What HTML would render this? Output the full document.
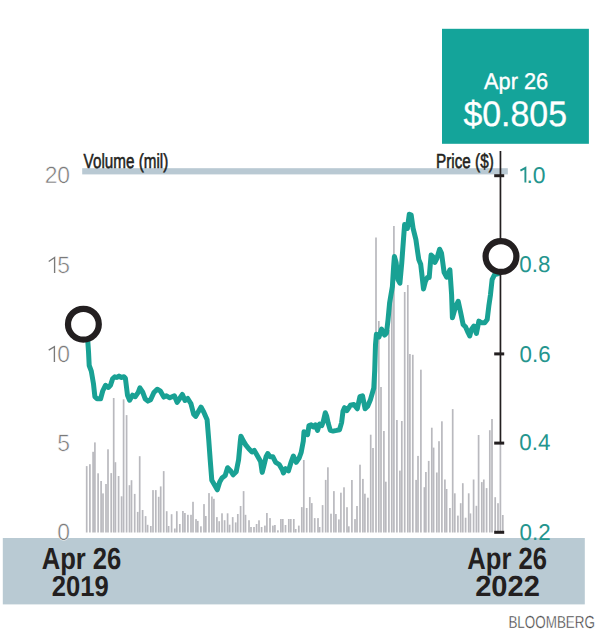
<!DOCTYPE html>
<html><head><meta charset="utf-8"><title>chart</title>
<style>
html,body{margin:0;padding:0;background:#fff;}
body{width:603px;height:635px;overflow:hidden;position:relative;}
svg{position:absolute;left:0;top:0;display:block;font-family:"Liberation Sans", sans-serif;text-rendering:geometricPrecision;}
</style></head>
<body>
<svg width="603" height="635" viewBox="0 0 603 635">
<rect x="442" y="28.8" width="146.9" height="115" fill="#14a49a"/>
<text transform="translate(516.1 88.9) scale(0.955 1)" font-size="22.8" fill="#fff" text-anchor="middle" stroke="#fff" stroke-width="0.35">Apr 26</text>
<text transform="translate(515.2 126) scale(0.954 1)" font-size="35.5" fill="#fff" text-anchor="middle" stroke="#fff" stroke-width="0.3">$0.805</text>
<rect x="82.2" y="168.2" width="425.6" height="6.2" fill="#b9c9d3"/>
<text transform="translate(83.6 168.2) scale(0.747 1)" font-size="20.4" fill="#231f20" stroke="#231f20" stroke-width="0.55">Volume (mil)</text>
<text transform="translate(436.1 167.5) scale(0.748 1)" font-size="20.4" fill="#231f20" stroke="#231f20" stroke-width="0.55">Price ($)</text>
<g fill="#b9b9be">
<rect x="85.85" y="466.1" width="1.7" height="66.4"/>
<rect x="89.05" y="464.2" width="1.7" height="68.3"/>
<rect x="92.25" y="451.8" width="1.7" height="80.7"/>
<rect x="94.05" y="442.4" width="1.7" height="90.1"/>
<rect x="97.25" y="473.3" width="1.7" height="59.2"/>
<rect x="100.25" y="481" width="1.7" height="51.5"/>
<rect x="102.15" y="493.4" width="1.7" height="39.1"/>
<rect x="105.15" y="484" width="1.7" height="48.5"/>
<rect x="107.15" y="449.3" width="1.7" height="83.2"/>
<rect x="110.35" y="473.1" width="1.7" height="59.4"/>
<rect x="112.85" y="398" width="1.7" height="134.5"/>
<rect x="114.55" y="462.2" width="1.7" height="70.3"/>
<rect x="117.75" y="476" width="1.7" height="56.5"/>
<rect x="120.75" y="496.3" width="1.7" height="36.2"/>
<rect x="122.75" y="399.3" width="1.7" height="133.2"/>
<rect x="125.75" y="415.1" width="1.7" height="117.4"/>
<rect x="128.65" y="485.2" width="1.7" height="47.3"/>
<rect x="130.65" y="480.2" width="1.7" height="52.3"/>
<rect x="133.85" y="493.9" width="1.7" height="38.6"/>
<rect x="136.85" y="511.9" width="1.7" height="20.6"/>
<rect x="138.85" y="456.2" width="1.7" height="76.3"/>
<rect x="141.75" y="510" width="1.7" height="22.5"/>
<rect x="144.75" y="516.1" width="1.7" height="16.4"/>
<rect x="146.75" y="524.8" width="1.7" height="7.7"/>
<rect x="149.95" y="526" width="1.7" height="6.5"/>
<rect x="152.15" y="490.1" width="1.7" height="42.4"/>
<rect x="154.95" y="490.1" width="1.7" height="42.4"/>
<rect x="157.85" y="496.8" width="1.7" height="35.7"/>
<rect x="159.85" y="486.4" width="1.7" height="46.1"/>
<rect x="162.85" y="471.1" width="1.7" height="61.4"/>
<rect x="165.85" y="511.2" width="1.7" height="21.3"/>
<rect x="167.75" y="526" width="1.7" height="6.5"/>
<rect x="170.75" y="514.2" width="1.7" height="18.3"/>
<rect x="173.95" y="528.5" width="1.7" height="4"/>
<rect x="175.95" y="511.2" width="1.7" height="21.3"/>
<rect x="178.95" y="524" width="1.7" height="8.5"/>
<rect x="182.05" y="511" width="1.7" height="21.5"/>
<rect x="184.05" y="513" width="1.7" height="19.5"/>
<rect x="187.05" y="514.8" width="1.7" height="17.7"/>
<rect x="190.15" y="514.8" width="1.7" height="17.7"/>
<rect x="192.15" y="501.8" width="1.7" height="30.7"/>
<rect x="195.15" y="519.1" width="1.7" height="13.4"/>
<rect x="196.95" y="520.9" width="1.7" height="11.6"/>
<rect x="200.05" y="526.3" width="1.7" height="6.2"/>
<rect x="203.15" y="504.1" width="1.7" height="28.4"/>
<rect x="204.95" y="516" width="1.7" height="16.5"/>
<rect x="208.15" y="493.1" width="1.7" height="39.4"/>
<rect x="211.05" y="496.5" width="1.7" height="36"/>
<rect x="213.05" y="498.8" width="1.7" height="33.7"/>
<rect x="216.05" y="517.1" width="1.7" height="15.4"/>
<rect x="218.35" y="521.2" width="1.7" height="11.3"/>
<rect x="221.15" y="513.3" width="1.7" height="19.2"/>
<rect x="223.75" y="520.2" width="1.7" height="12.3"/>
<rect x="226.75" y="513.3" width="1.7" height="19.2"/>
<rect x="228.75" y="524.7" width="1.7" height="7.8"/>
<rect x="231.85" y="517.1" width="1.7" height="15.4"/>
<rect x="234.85" y="522.4" width="1.7" height="10.1"/>
<rect x="236.95" y="514" width="1.7" height="18.5"/>
<rect x="239.75" y="506" width="1.7" height="26.5"/>
<rect x="242.75" y="491.1" width="1.7" height="41.4"/>
<rect x="244.65" y="514.8" width="1.7" height="17.7"/>
<rect x="248.15" y="520.2" width="1.7" height="12.3"/>
<rect x="250.15" y="527" width="1.7" height="5.5"/>
<rect x="253.15" y="527" width="1.7" height="5.5"/>
<rect x="255.75" y="524" width="1.7" height="8.5"/>
<rect x="258.15" y="520.3" width="1.7" height="12.2"/>
<rect x="260.75" y="527" width="1.7" height="5.5"/>
<rect x="264.05" y="525.6" width="1.7" height="6.9"/>
<rect x="266.05" y="513" width="1.7" height="19.5"/>
<rect x="269.15" y="518.1" width="1.7" height="14.4"/>
<rect x="272.05" y="525.6" width="1.7" height="6.9"/>
<rect x="274.05" y="525" width="1.7" height="7.5"/>
<rect x="277.05" y="530.3" width="1.7" height="2.2"/>
<rect x="280.05" y="519" width="1.7" height="13.5"/>
<rect x="281.95" y="519" width="1.7" height="13.5"/>
<rect x="284.65" y="525" width="1.7" height="7.5"/>
<rect x="287.95" y="519" width="1.7" height="13.5"/>
<rect x="289.95" y="519" width="1.7" height="13.5"/>
<rect x="292.95" y="519" width="1.7" height="13.5"/>
<rect x="294.85" y="529" width="1.7" height="3.5"/>
<rect x="297.95" y="525.6" width="1.7" height="6.9"/>
<rect x="300.95" y="507.1" width="1.7" height="25.4"/>
<rect x="302.95" y="460" width="1.7" height="72.5"/>
<rect x="305.85" y="508" width="1.7" height="24.5"/>
<rect x="308.95" y="497.1" width="1.7" height="35.4"/>
<rect x="310.95" y="503.1" width="1.7" height="29.4"/>
<rect x="313.85" y="518.1" width="1.7" height="14.4"/>
<rect x="317.15" y="518.1" width="1.7" height="14.4"/>
<rect x="318.75" y="527" width="1.7" height="5.5"/>
<rect x="321.75" y="505.1" width="1.7" height="27.4"/>
<rect x="324.85" y="479.9" width="1.7" height="52.6"/>
<rect x="327.05" y="467.3" width="1.7" height="65.2"/>
<rect x="330.15" y="513.7" width="1.7" height="18.8"/>
<rect x="333.05" y="491.1" width="1.7" height="41.4"/>
<rect x="335.05" y="514" width="1.7" height="18.5"/>
<rect x="338.05" y="519.4" width="1.7" height="13.1"/>
<rect x="340.05" y="492.7" width="1.7" height="39.8"/>
<rect x="343.15" y="487.3" width="1.7" height="45.2"/>
<rect x="346.15" y="507.2" width="1.7" height="25.3"/>
<rect x="347.95" y="526.3" width="1.7" height="6.2"/>
<rect x="351.05" y="480" width="1.7" height="52.5"/>
<rect x="354.15" y="519.1" width="1.7" height="13.4"/>
<rect x="356.15" y="506" width="1.7" height="26.5"/>
<rect x="359.15" y="464.7" width="1.7" height="67.8"/>
<rect x="362.05" y="478.9" width="1.7" height="53.6"/>
<rect x="364.05" y="493.7" width="1.7" height="38.8"/>
<rect x="367.05" y="497.7" width="1.7" height="34.8"/>
<rect x="369.85" y="434.7" width="1.7" height="97.8"/>
<rect x="372.15" y="448" width="1.7" height="84.5"/>
<rect x="375.15" y="237.5" width="1.7" height="295"/>
<rect x="377.95" y="321" width="1.7" height="211.5"/>
<rect x="380.15" y="387" width="1.7" height="145.5"/>
<rect x="383.05" y="431" width="1.7" height="101.5"/>
<rect x="384.95" y="481.7" width="1.7" height="50.8"/>
<rect x="388.05" y="330" width="1.7" height="202.5"/>
<rect x="390.95" y="295" width="1.7" height="237.5"/>
<rect x="393.05" y="226" width="1.7" height="306.5"/>
<rect x="396.05" y="420" width="1.7" height="112.5"/>
<rect x="399.05" y="470.6" width="1.7" height="61.9"/>
<rect x="400.95" y="421" width="1.7" height="111.5"/>
<rect x="403.85" y="292" width="1.7" height="240.5"/>
<rect x="406.95" y="285" width="1.7" height="247.5"/>
<rect x="409.05" y="354" width="1.7" height="178.5"/>
<rect x="411.95" y="354.8" width="1.7" height="177.7"/>
<rect x="415.25" y="479.9" width="1.7" height="52.6"/>
<rect x="417.15" y="455.9" width="1.7" height="76.6"/>
<rect x="420.05" y="369.7" width="1.7" height="162.8"/>
<rect x="423.55" y="487.2" width="1.7" height="45.3"/>
<rect x="425.05" y="472" width="1.7" height="60.5"/>
<rect x="427.85" y="460.9" width="1.7" height="71.6"/>
<rect x="430.95" y="427.7" width="1.7" height="104.8"/>
<rect x="432.75" y="447.6" width="1.7" height="84.9"/>
<rect x="435.95" y="472.5" width="1.7" height="60"/>
<rect x="438.15" y="441.2" width="1.7" height="91.3"/>
<rect x="441.05" y="421.3" width="1.7" height="111.2"/>
<rect x="444.05" y="479.5" width="1.7" height="53"/>
<rect x="445.75" y="489" width="1.7" height="43.5"/>
<rect x="449.05" y="508" width="1.7" height="24.5"/>
<rect x="451.85" y="409.1" width="1.7" height="123.4"/>
<rect x="453.95" y="493.3" width="1.7" height="39.2"/>
<rect x="457.05" y="515.6" width="1.7" height="16.9"/>
<rect x="459.85" y="503.2" width="1.7" height="29.3"/>
<rect x="461.95" y="483.2" width="1.7" height="49.3"/>
<rect x="464.75" y="517.7" width="1.7" height="14.8"/>
<rect x="467.85" y="493.3" width="1.7" height="39.2"/>
<rect x="469.55" y="513.4" width="1.7" height="19.1"/>
<rect x="472.75" y="479.5" width="1.7" height="53"/>
<rect x="475.55" y="505.8" width="1.7" height="26.7"/>
<rect x="477.75" y="435" width="1.7" height="97.5"/>
<rect x="480.95" y="482.1" width="1.7" height="50.4"/>
<rect x="482.95" y="479.5" width="1.7" height="53"/>
<rect x="485.75" y="488.1" width="1.7" height="44.4"/>
<rect x="488.95" y="430.2" width="1.7" height="102.3"/>
<rect x="491.15" y="419" width="1.7" height="113.5"/>
<rect x="494.35" y="497.2" width="1.7" height="35.3"/>
<rect x="497.15" y="503.2" width="1.7" height="29.3"/>
<rect x="499.55" y="443" width="1.7" height="89.5"/>
<rect x="501.95" y="515" width="1.7" height="17.5"/>
</g>
<path d="M86.5 336 L87.8 341.3 L88.5 351.3 L89.2 365.5 L91.3 371.1 L93.5 383.9 L94.9 396.7 L97 398.8 L100.6 398.8 L102.7 391 L105.5 385.3 L108.4 387.4 L110.5 385.3 L112.6 378.9 L114.8 376.8 L116.9 377.5 L119 376.1 L121.1 377.5 L124 376.8 L125.4 378.2 L127.5 395.2 L129.6 400.2 L132.5 395.2 L135.3 396.7 L138.2 392.4 L139.9 387.9 L142.6 391.8 L145.3 399.1 L147.9 401.1 L150.6 399.8 L153.9 392.5 L157.2 389.2 L160.5 391.2 L163.8 397.1 L166.5 395.8 L169.8 397.8 L174.4 395.8 L177.1 402.4 L179.7 398.5 L182.4 394.5 L185 400.5 L187.7 398.5 L191 403.8 L193.7 414.4 L195.6 416.4 L198.3 411.7 L201 407.1 L203.6 411.7 L207.1 419.7 L208.7 439.4 L210.2 459.8 L211.8 480.3 L215 485.8 L217.3 489.8 L219.7 481.9 L222 478 L225.2 475.6 L227.6 467.7 L230.7 470.9 L233.1 474.8 L236.2 471.7 L238.6 459.8 L240.2 442.5 L240.9 436.2 L243.3 440.9 L245.7 444.9 L248.8 448.8 L252 452 L254.3 450.4 L257.5 455.9 L260.6 461.4 L262.2 472.4 L263.8 466.1 L266.1 456.7 L267.7 453.5 L270.1 456.7 L272.8 456.7 L275.7 462.3 L279.2 464.5 L282.1 469.4 L283.5 473 L285.6 468.7 L288.4 470.9 L291.3 461.6 L293.4 456 L296.2 462.3 L299.1 458.1 L301.2 452.4 L303.3 441.1 L304 431.8 L306.2 432.6 L307.6 434.7 L309 425.5 L311.1 424.8 L313.3 426.9 L315.4 424.8 L317.5 430.4 L319.6 424 L321.8 425.5 L323.2 421.9 L325.3 412.7 L326.7 416.2 L328.2 423.3 L330.3 430.4 L333.1 431.1 L336.7 430.4 L339.5 429.7 L341.6 422.6 L343 411.3 L344.5 407.7 L346.9 410.5 L350.4 405.3 L353.9 404.5 L357.3 408.8 L359.9 396.7 L362.5 395.8 L365.1 408.8 L367.7 406.2 L370.3 400.1 L373.8 388 L374.7 370.7 L375.5 344.7 L376.4 334.3 L379 336.9 L381.6 329.1 L384.6 335.1 L386.5 333 L388 320 L389.6 303 L392.4 286.5 L393.6 267 L394.4 256.5 L396.1 262.4 L398 279.5 L399.9 283.2 L401.8 262.4 L403.6 237.8 L404.6 224.6 L407.4 228.4 L409.3 214.2 L411.2 215.1 L413.1 228.4 L415.9 239.7 L417.8 253 L418.8 259.6 L420.7 264.3 L421.6 271.9 L423.5 288.9 L425.4 281.3 L427.3 277.6 L429.2 277.6 L431.1 254.9 L433 256.8 L434.9 262.4 L436.8 258.6 L439.6 249.2 L441.5 253 L444.1 272.3 L446.6 277.2 L449.9 269.8 L451.6 294.6 L452.4 317.8 L455.7 306.2 L458.2 301.3 L460.7 312.8 L463.1 324.4 L465.6 326.9 L468.1 332.7 L469.8 336 L471.4 329.4 L473.9 326.1 L476.4 333.5 L478.9 321.1 L481.4 322.8 L484.7 322.8 L487.2 319.5 L488.8 306.2 L490.5 294.6 L492.1 279.7 L494.6 274.5 L498.7 273.5" fill="none" stroke="#19a194" stroke-width="5.0" stroke-linejoin="round" stroke-linecap="round"/>
<rect x="499.6" y="151" width="1.7" height="292" fill="#231f20"/>
<g fill="#231f20">
<rect x="494.2" y="174.2" width="10" height="3"/>
<rect x="494.2" y="263.3" width="10" height="3"/>
<rect x="494.2" y="352.4" width="10" height="3"/>
<rect x="494.2" y="441.6" width="10" height="3"/>
<rect x="494.2" y="530.8" width="10" height="3"/>
</g>
<circle cx="83.4" cy="324.2" r="15.4" fill="#fff" stroke="#231f20" stroke-width="6.2"/>
<circle cx="501" cy="256.5" r="15.4" fill="#fff" stroke="#231f20" stroke-width="6.2"/>
<rect x="2.8" y="538" width="582" height="66.4" fill="#b9cad3"/>
<text transform="translate(70.1 182.9) scale(0.97 1)" font-size="23.6" fill="#7a7a7a" text-anchor="end" stroke="#fff" stroke-width="0.5">20</text>
<text transform="translate(70.1 272.9) scale(0.97 1)" font-size="23.6" fill="#7a7a7a" text-anchor="end" stroke="#fff" stroke-width="0.5">5</text>
<text transform="translate(70.1 361.9) scale(0.97 1)" font-size="23.6" fill="#7a7a7a" text-anchor="end" stroke="#fff" stroke-width="0.5">0</text>
<text transform="translate(70.1 450.9) scale(0.97 1)" font-size="23.6" fill="#7a7a7a" text-anchor="end" stroke="#fff" stroke-width="0.5">5</text>
<text transform="translate(70.1 539.6) scale(0.97 1)" font-size="23.6" fill="#7a7a7a" text-anchor="end" stroke="#fff" stroke-width="0.5">0</text>
<path d="M48.7 261.5 L54.6 257.5 L54.6 272.9" fill="none" stroke="#7a7a7a" stroke-width="1.35" stroke-linejoin="miter"/>
<path d="M48.7 350.2 L54.4 346.7 L54.4 361.9" fill="none" stroke="#7a7a7a" stroke-width="1.35" stroke-linejoin="miter"/>
<text transform="translate(519.3 272) scale(0.975 1)" font-size="22.9" fill="#24958e">0.8</text>
<text transform="translate(519.6 361.5) scale(0.975 1)" font-size="22.9" fill="#24958e">0.6</text>
<text transform="translate(519.3 450) scale(0.975 1)" font-size="22.9" fill="#24958e">0.4</text>
<text transform="translate(519.6 539.5) scale(0.975 1)" font-size="22.9" fill="#24958e">0.2</text>
<text transform="translate(545.6 182.6) scale(1 1)" font-size="22.9" fill="#24958e" text-anchor="end">.0</text>
<path d="M520.4 170.6 L525.4 167.8 L525.4 182.6" fill="none" stroke="#24958e" stroke-width="1.9" stroke-linejoin="miter"/>
<text transform="translate(81.5 568.9) scale(0.843 1)" font-size="30.4" fill="#231f20" font-weight="bold" text-anchor="middle">Apr 26</text>
<text transform="translate(80.3 596.2) scale(0.891 1)" font-size="28.8" fill="#231f20" font-weight="bold" text-anchor="middle">2019</text>
<text transform="translate(507.2 568.9) scale(0.832 1)" font-size="30.8" fill="#231f20" font-weight="bold" text-anchor="middle">Apr 26</text>
<text transform="translate(507.5 596.2) scale(1 1)" font-size="29.1" fill="#231f20" font-weight="bold" text-anchor="middle">2022</text>
<text transform="translate(508.4 627.5) scale(0.772 1)" font-size="17.4" fill="#3a3a3a" stroke="#fff" stroke-width="0.35">BLOOMBERG</text>
</svg>
</body></html>
